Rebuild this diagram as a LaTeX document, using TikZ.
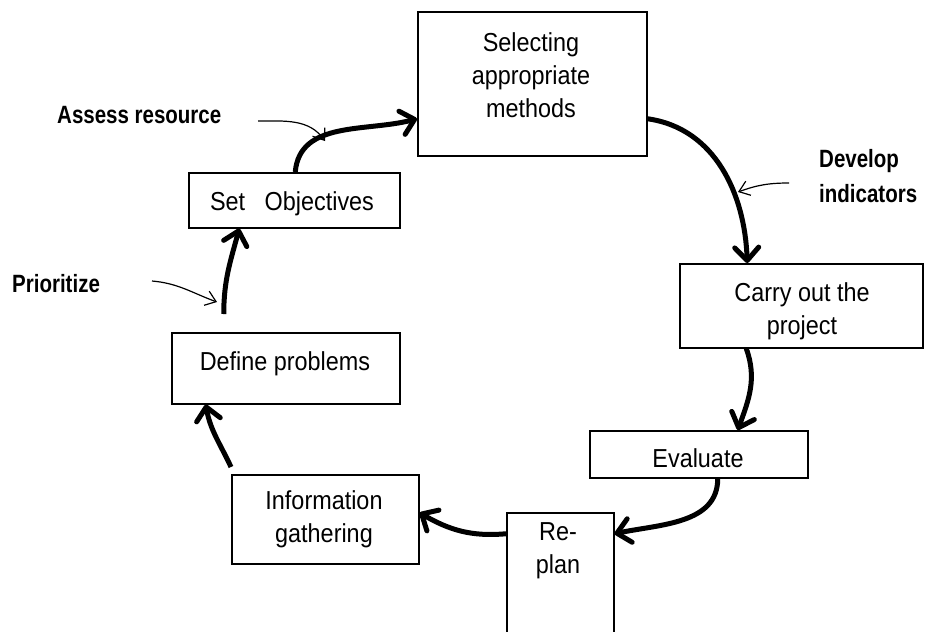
\documentclass[tikz,border=0pt]{standalone}
\usepackage{fontspec}
\setmainfont{Liberation Sans}[FakeStretch=0.9]
\newfontfamily\notefont{Liberation Sans}[FakeStretch=0.82]
\usetikzlibrary{arrows.meta}

\tikzset{
  box/.style={draw, line width=1.5pt, inner sep=0pt, anchor=north west},
  txt/.style={anchor=base, align=center, inner sep=0pt,
    font=\fontsize{26}{33}\selectfont},
  note/.style={anchor=base west, align=left, inner sep=0pt,
    font=\notefont\bfseries\fontsize{25}{35}\selectfont},
  flow/.style={line width=5pt, -{Straight Barb[length=13pt,width=24pt,round]}},
  hint/.style={line width=1.2pt, -{Straight Barb[length=10pt,width=15pt]}},
}

\begin{document}
\begin{tikzpicture}[x=1pt,y=-1pt]
    \useasboundingbox (0,0) rectangle (927,632);

    % Boxes
    \node[box, minimum width=229pt, minimum height=144pt] (sel) at (417,11) {};
    \node[box, minimum width=211pt, minimum height=55pt] (setobj) at (188,172) {};
    \node[box, minimum width=228pt, minimum height=71pt] (def) at (171,332) {};
    \node[box, minimum width=187pt, minimum height=89pt] (info) at (231,474) {};
    \node[box, minimum width=107pt, minimum height=130pt] (replan) at (506,512) {};
    \node[box, minimum width=243pt, minimum height=84pt] (carry) at (679,263) {};
    \node[box, minimum width=218pt, minimum height=47pt] (eval) at (589,430) {};

    % Box texts (base = last line)
    \node[txt] (seltxt) at (531,117) {Selecting\\appropriate\\methods};
    \node[txt] (settxt) at (292,210) {Set~~~Objectives};
    \node[txt] (deftxt) at (285,370) {Define problems};
    \node[txt] (infotxt) at (324,542) {Information\\gathering};
    \node[txt] (replantxt) at (558,573) {Re-\\plan};
    \node[txt] (carrytxt) at (802,334) {Carry out the\\project};
    \node[txt] (evaltxt) at (698,467) {Evaluate};

    % Cycle
    \draw[flow] ([xshift=1pt]setobj.north) to[out=85,in=195] ([yshift=-35pt]sel.west);
    \draw[flow] ([yshift=-35pt]sel.east) to[out=-8,in=92] ([xshift=-54pt]carry.north);
    \draw[flow] ([xshift=-55pt]carry.south) to[out=-70,in=70] ([xshift=39pt]eval.north);
    \draw[flow] ([xshift=19pt]eval.south) to[out=-90,in=12] ([yshift=44pt]replan.east);
    \draw[flow] ([yshift=44pt]replan.west) to[out=185,in=-30] ([yshift=6.5pt]info.east);
    \draw[flow] ([yshift=7pt]info.north west) to[out=115,in=-80] ([xshift=-80pt]def.south);
    \draw[flow] ([xshift=-62pt,yshift=18pt]def.north) to[out=90,in=-105] ([xshift=-55pt]setobj.south);

    % Notes
    \node[note] (assess) at (57,123) {Assess resource};
    \node[note] (develop) at (819,202) {Develop\\indicators};
    \node[note] (prior) at (12,292) {Prioritize};

    \coordinate (assesstail) at (258,121);
    \coordinate (assesstip) at (325,141);
    \coordinate (developtail) at (789,183);
    \coordinate (developtip) at (738,192);
    \coordinate (priortail) at (152,281);
    \coordinate (priortip) at (217,302);

    \draw[hint] (assesstail) to[out=0,in=125] (assesstip);
    \draw[hint] (developtail) to[out=180,in=20] (developtip);
    \draw[hint] (priortail) to[out=-5,in=160] (priortip);
\end{tikzpicture}
\end{document}
